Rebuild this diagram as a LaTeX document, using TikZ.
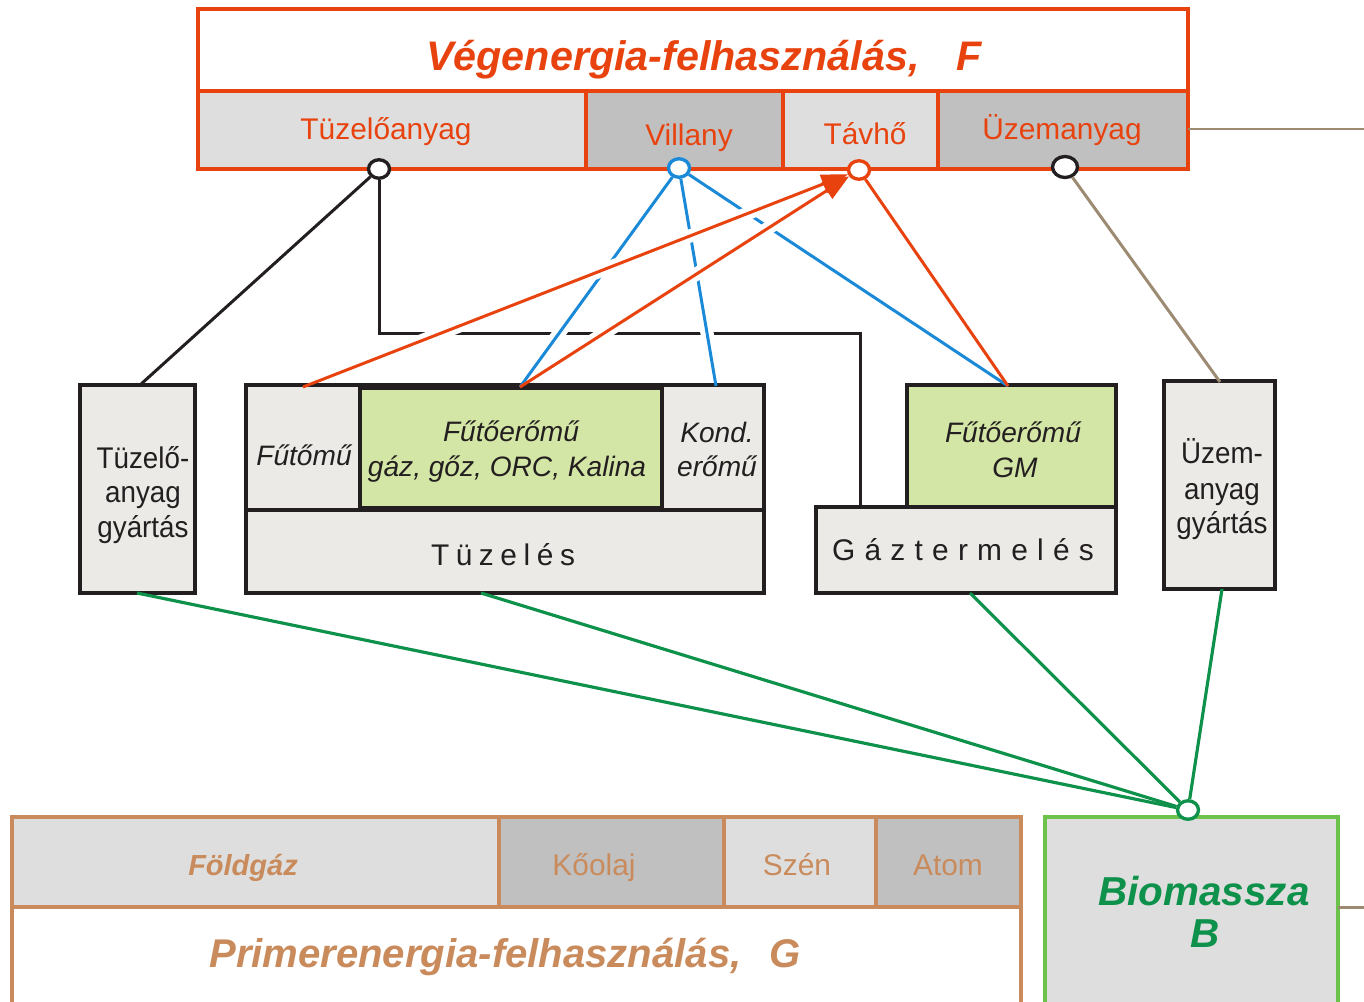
\documentclass[tikz,border=0pt]{standalone}
\usepackage{fontspec}
\setmainfont{Liberation Sans}
\newfontfamily\spacedA[LetterSpace=22]{Liberation Sans}
\newfontfamily\spacedB[LetterSpace=31]{Liberation Sans}
\usetikzlibrary{arrows.meta,shapes.geometric}
\definecolor{fred}{HTML}{E8430F}
\definecolor{fblue}{HTML}{1A8AD8}
\definecolor{fgreen}{HTML}{0E914A}
\definecolor{ftan}{HTML}{C98B5B}
\definecolor{fbrown}{HTML}{9C8B72}
\definecolor{bioborder}{HTML}{6CC24A}
\definecolor{lgreen}{HTML}{D4E6A5}
\definecolor{lgray}{HTML}{DEDEDE}
\definecolor{dgray}{HTML}{C0C0C0}
\definecolor{mgray}{HTML}{EBEAE6}
\definecolor{fblack}{HTML}{231F20}
\begin{document}
\begin{tikzpicture}[x=0.02cm,y=-0.02cm,
  txt/.style={inner sep=0pt,anchor=base},
  rowtxt/.style={txt,text=fred,font=\fontsize{17pt}{20pt}\selectfont},
  midtxt/.style={txt,text=fblack,font=\fontsize{17pt}{20pt}\selectfont},
  ittxt/.style={txt,text=fblack,font=\fontsize{16pt}{19pt}\selectfont\itshape},
  bottxt/.style={txt,text=ftan,font=\fontsize{17pt}{20pt}\selectfont},
  box/.style={draw=fblack,fill=mgray,line width=2.1pt},
  greenbox/.style={draw=fblack,fill=lgreen,line width=2.3pt},
  conn/.style={line width=1.7pt},
  halo/.style={draw=white,line width=7.5pt,shorten <=0.7cm,shorten >=0.7cm},
  dot/.style={ellipse,draw=#1,fill=white,line width=1.9pt,minimum width=0.42cm,minimum height=0.37cm,inner sep=0pt},
  arr/.style={-{Triangle[length=15pt,width=11pt]}}
]
\clip (0,0) rectangle (1364,1001);
\fill[white] (0,0) rectangle (1364,1001);

% ---------- top box ----------
\fill[lgray] (198,91) rectangle (586,169);
\fill[dgray] (586,91) rectangle (783,169);
\fill[lgray] (783,91) rectangle (938,169);
\fill[dgray] (938,91) rectangle (1188,169);
\draw[fred,line width=2pt] (198,9) rectangle (1188,169);
\draw[fred,line width=2pt] (198,91) -- (1188,91);
\draw[fred,line width=2pt] (586,91) -- (586,169) (783,91) -- (783,169) (938,91) -- (938,169);
\draw[fbrown,line width=1.7pt] (1188,129) -- (1364,129);

\node[txt,text=fred,font=\fontsize{23.5pt}{28pt}\selectfont\bfseries\itshape] (tF) at (704,70) {Végenergia-felhasználás,\hspace{0.9em}F};
\node[rowtxt] (tTz) at (386,139) {Tüzelőanyag};
\node[rowtxt] (tVl) at (689,145) {Villany};
\node[rowtxt] (tTv) at (865,144) {Távhő};
\node[rowtxt] (tUz) at (1062,139) {Üzemanyag};

% ---------- middle boxes ----------
\draw[box] (80,385) rectangle (195,593);
\node[midtxt,xscale=0.93] (tgy1) at (143,468) {Tüzelő-};
\node[midtxt,xscale=0.93] (tgy2) at (143,502) {anyag};
\node[midtxt,xscale=0.93] (tgy3) at (143,537) {gyártás};

\draw[box] (246,385) rectangle (764,593);
\draw[fblack,line width=2.1pt] (246,510) -- (764,510);
\draw[greenbox] (360,388) rectangle (662,508);
\node[ittxt] (tFm) at (304,465) {Fűtőmű};
\node[ittxt] (tFe1) at (511,441) {Fűtőerőmű};
\node[ittxt] (tFe2) at (507,476) {gáz, gőz, ORC, Kalina};
\node[ittxt] (tK1) at (717,442) {Kond.};
\node[ittxt] (tK2) at (717,476) {erőmű};
\node[txt,text=fblack,font=\fontsize{17pt}{20pt}\spacedA] (tTuz) at (503,565) {Tüzelés};

\draw[box] (816,507) rectangle (1116,593);
\draw[greenbox] (907,385) rectangle (1116,507);
\draw[fblack,line width=2.1pt] (816,507) -- (1116,507);
\node[ittxt] (tGm1) at (1013,442) {Fűtőerőmű};
\node[ittxt] (tGm2) at (1015,477) {GM};
\node[txt,text=fblack,font=\fontsize{17pt}{20pt}\spacedB] (tGz) at (963,560) {Gáztermelés};

\draw[box] (1164,381) rectangle (1275,589);
\node[midtxt,xscale=0.93] (ug1) at (1222,463) {Üzem-};
\node[midtxt,xscale=0.93] (ug2) at (1222,499) {anyag};
\node[midtxt,xscale=0.93] (ug3) at (1222,533) {gyártás};

% ---------- bottom boxes ----------
\fill[lgray] (12,817) rectangle (499,907);
\fill[dgray] (499,817) rectangle (724,907);
\fill[lgray] (724,817) rectangle (876,907);
\fill[dgray] (876,817) rectangle (1021,907);
\draw[ftan,line width=2pt] (12,1010) -- (12,817) -- (1021,817) -- (1021,1010);
\draw[ftan,line width=2pt] (12,907) -- (1021,907);
\draw[ftan,line width=2pt] (499,817) -- (499,907) (724,817) -- (724,907) (876,817) -- (876,907);
\node[txt,text=ftan,font=\fontsize{16.5pt}{19pt}\selectfont\bfseries\itshape] (tFg) at (243,875) {Földgáz};
\node[bottxt] (tKo) at (594,875) {Kőolaj};
\node[bottxt] (tSz) at (797,875) {Szén};
\node[bottxt] (tAt) at (948,875) {Atom};
\node[txt,text=ftan,font=\fontsize{22.8pt}{26pt}\selectfont\bfseries\itshape] (tG) at (505,967) {Primerenergia-felhasználás,\hspace{0.7em}G};

\draw[fill=lgray,draw=bioborder,line width=2pt] (1045,817) rectangle (1338,1010);
\draw[fbrown,line width=1.7pt] (1338,907) -- (1364,907);
\node[txt,text=fgreen,font=\fontsize{23pt}{26pt}\selectfont\bfseries\itshape] (tBio) at (1204,905) {Biomassza};
\node[txt,text=fgreen,font=\fontsize{23pt}{26pt}\selectfont\bfseries\itshape] (tB) at (1205,947) {B};

% ---------- anchor points ----------
\coordinate (tgyN) at (140,385);
\coordinate (bend) at (379,333);
\coordinate (gzN) at (860,507);
\coordinate (fmN) at (303,387);
\coordinate (fkN) at (520,387);
\coordinate (kondN) at (716,386);
\coordinate (gmN) at (1008,386);
\coordinate (uzgyN) at (1220,382);
\coordinate (tgyS) at (137,593);
\coordinate (tuzS) at (481,593);
\coordinate (gzS) at (970,593);
\coordinate (uzgyS) at (1222,589);

% ---------- connection circles ----------
\node[dot=fblack] (cTz) at (379,169) {};
\node[dot=fblue] (cV) at (679,168) {};
\node[dot=fred] (cT) at (859,170) {};
\node[dot=fblack,minimum width=0.5cm,minimum height=0.42cm] (cU) at (1065,167) {};
\node[dot=fgreen] (cB) at (1188,810) {};

% ---------- connectors ----------
\draw[conn,fblack] (cTz) -- (tgyN);
\draw[conn,fblack] (cTz) -- (bend) -| (gzN);
\draw[conn,fbrown] (cU) -- (uzgyN);
\draw[conn,fgreen,line width=1.8pt] (cB) -- (tgyS);
\draw[conn,fgreen,line width=1.8pt] (cB) -- (tuzS);
\draw[conn,fgreen,line width=1.8pt] (cB) -- (gzS);
\draw[conn,fgreen,line width=1.8pt] (cB) -- (uzgyS);

\path[halo] (cV) -- (fkN);
\path[halo] (cV) -- (kondN);
\path[halo] (cV) -- (gmN);
\draw[conn,fblue] (cV) -- (fkN);
\draw[conn,fblue] (cV) -- (kondN);
\draw[conn,fblue] (cV) -- (gmN);

\path[halo,shorten >=1.5cm] (fmN) -- (cT);
\path[halo,shorten >=1.5cm] (fkN) -- (cT);
\draw[conn,fred] (cT) -- (gmN);
\draw[conn,fred,arr] (fmN) -- (cT);
\draw[conn,fred,arr] (fkN) -- (cT);
\end{tikzpicture}
\end{document}
